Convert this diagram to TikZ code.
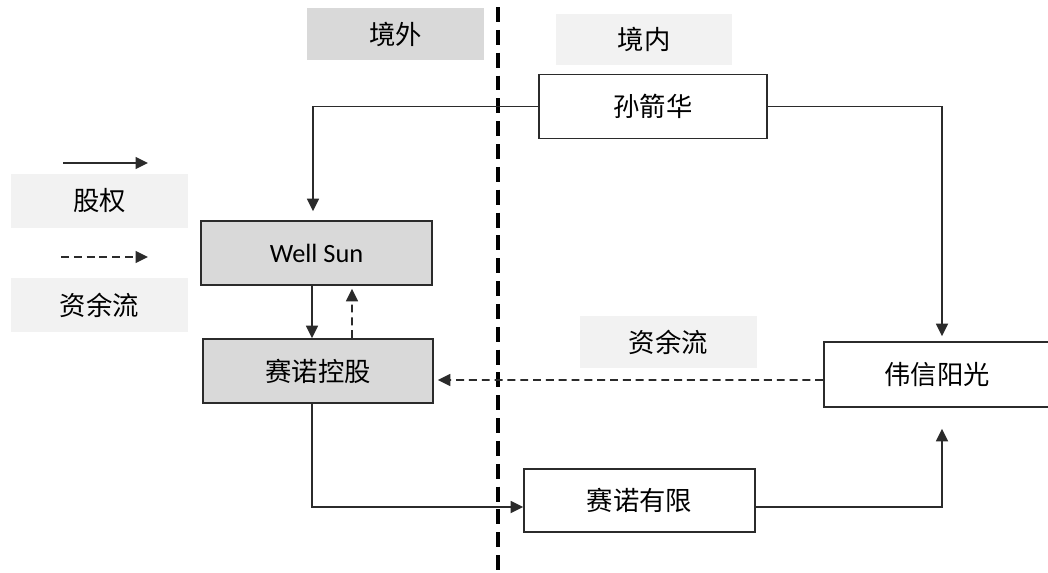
\documentclass[tikz,border=0pt]{standalone}
\usepackage{fontspec}
\setmainfont{Noto Sans CJK SC}
\newfontfamily\latinfont{Carlito}
\usetikzlibrary{arrows.meta,positioning,calc}
\definecolor{boxgray}{HTML}{D9D9D9}
\definecolor{keygray}{HTML}{F2F2F2}
\definecolor{linegray}{HTML}{2B2B2B}

\begin{document}
\begin{tikzpicture}
      [x = 0.02cm, y = -0.02cm,
      font = \fontsize{15}{18}\selectfont,
      entity/.style= {
         draw = linegray,
         line width = 1pt,
         minimum width = 4.6cm,
         minimum height = 1.28cm,
         inner sep = 0pt
      },
      offshore/.style= {entity, fill = boxgray},
      tag/.style= {
         fill = keygray,
         minimum width = 3.54cm,
         minimum height = 1.04cm,
         inner sep = 0pt
      },
      equity/.style= {draw = linegray, line width = 1pt, -{Triangle[length = 0.25cm, width = 0.24cm]}},
      fund/.style= {equity, dash pattern = on 4.5pt off 2.8pt}]
      \useasboundingbox (0, 0) rectangle (1048, 572);

      % border between the two sides
      \draw[line width = 2.2pt, dash pattern = on 8.5pt off 4.5pt] (498, 7) -- (498, 570);

      \node[tag, fill = boxgray] (outside) at (395.5, 34) {境外};
      \node[tag, minimum height = 1.02cm] (inside) at (644, 39.5) {境内};

      \node[entity, minimum width = 4.56cm] (sun) at (653, 106.5) {孙箭华};
      \node[offshore, minimum width = 4.62cm] (well) at (316.5, 253) {\latinfont Well Sun};
      \node[offshore] (holding) at (318, 371) {赛诺控股};
      \node[entity, minimum width = 4.62cm, minimum height = 1.26cm] (limited) at (639.5, 500.5) {赛诺有限};
      \node[entity, minimum width = 4.52cm, minimum height = 1.3cm] (weixin) at (937, 374.5) {伟信阳光};
      \node[tag] (fundtag) at (668.5, 342) {资余流};

      % legend
      \node[tag, minimum height = 1.08cm] (equitykey) at (99.5, 201) {股权};
      \node[tag, minimum height = 1.08cm] (fundkey) at (99.5, 305) {资余流};
      \coordinate (equitystart) at (63, 163);
      \coordinate (equityend) at (148, 163);
      \coordinate (fundstart) at (61, 257);
      \coordinate (fundend) at (148, 257);
      \draw[equity] (equitystart) -- (equityend);
      \draw[fund] (fundstart) -- (fundend);

      \draw[equity] (sun.west) -| ([xshift = -0.07cm, yshift = 0.18cm]well.north);
      \draw[equity] (sun.east) -| ([xshift = 0.1cm, yshift = 0.1cm]weixin.north);
      \draw[equity] ([xshift = -0.09cm]well.south) -- ([xshift = -0.12cm]holding.north);
      \draw[fund] ([xshift = 0.68cm]holding.north) -- ($(well.south -| holding.north) + (34, 3)$);
      \draw[fund] ([yshift = -0.11cm]weixin.west) -- ($(holding.east |- weixin.west) + (4, 5.5)$);
      \draw[equity] ([xshift = -0.12cm]holding.south) |- ([yshift = -0.13cm]limited.west);
      \draw[equity] ([yshift = -0.13cm]limited.east) -| ([xshift = 0.1cm, yshift = -0.42cm]weixin.south);
   \end{tikzpicture}
\end{document}
